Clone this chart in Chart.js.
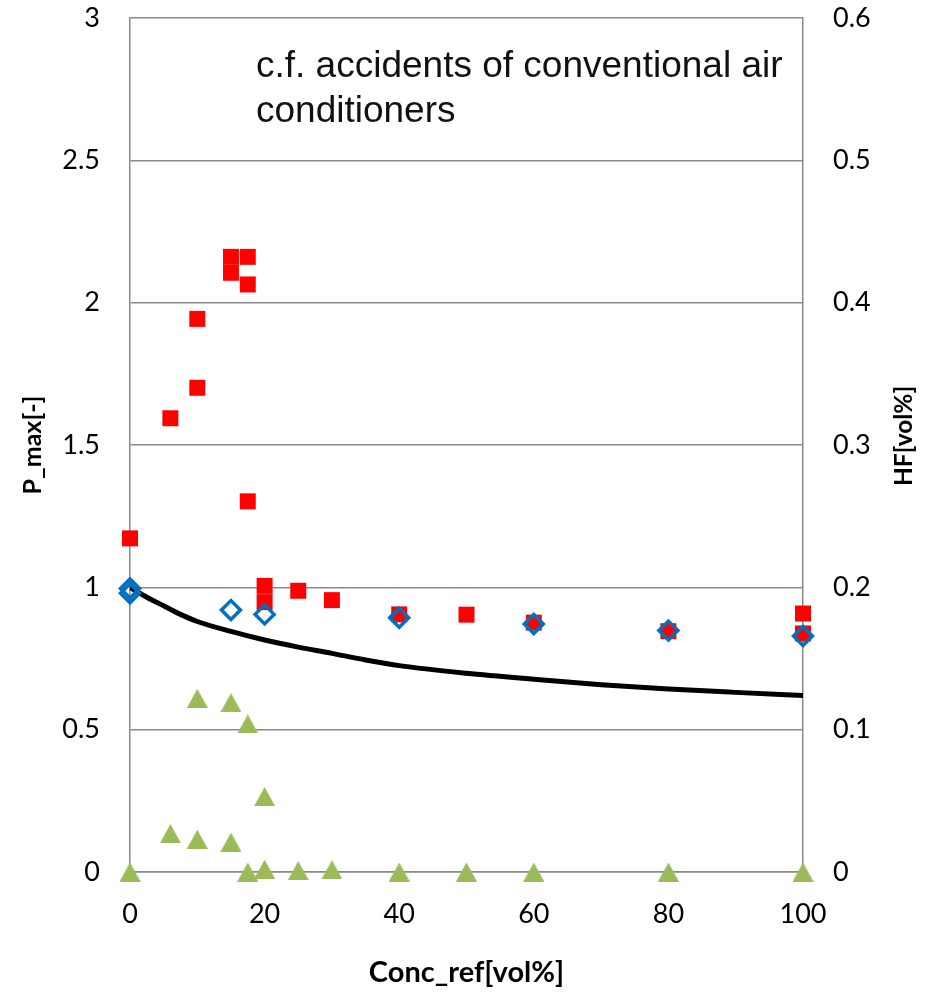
<!DOCTYPE html>
<html>
<head>
<meta charset="utf-8">
<script src="https://cdn.jsdelivr.net/npm/chart.js@4.4.1/dist/chart.umd.min.js"></script>
<style>
  html, body { margin: 0; padding: 0; background: #fff; }
  #chart { display: block; }
</style>
</head>
<body>
<canvas id="chart" width="933" height="992"></canvas>
<script>
// P_max measurements (red squares)
const pmaxX = [0, 6, 10, 10, 15, 15, 17.5, 17.5, 17.5, 20, 20, 25, 30, 40, 50, 60, 80, 100, 100];
const pmaxY = [1.172, 1.594, 1.701, 1.943, 2.161, 2.105, 2.161, 2.064, 1.302, 1.005, 0.948, 0.988, 0.955, 0.905, 0.904, 0.876, 0.846, 0.908, 0.838];

// P_max of the reference cases (blue open diamonds)
const refX = [0, 0, 15, 20, 40, 60, 80, 100];
const refY = [0.996, 0.979, 0.92, 0.905, 0.893, 0.871, 0.848, 0.829];

// HF concentration (green triangles, right axis)
const hfX = [0, 6, 10, 10, 15, 15, 17.5, 17.5, 20, 20, 25, 30, 40, 50, 60, 80, 100];
const hfY = [0, 0.027, 0.122, 0.023, 0.119, 0.021, 0.104, 0, 0.053, 0.002, 0.001, 0.0016, 0, 0, 0, 0, 0];

// black trend curve
const curveX = [0, 2.5, 5, 7.5, 10, 15, 20, 25, 30, 35, 40, 50, 60, 70, 80, 90, 100];
const curveY = [1.0, 0.965, 0.935, 0.905, 0.88, 0.845, 0.815, 0.79, 0.768, 0.745, 0.725, 0.698, 0.677, 0.658, 0.643, 0.631, 0.62];

const xTicks = [0, 20, 40, 60, 80, 100];
const noteLines = ['c.f. accidents of conventional air', 'conditioners'];

const toPoints = (xs, ys) => xs.map((x, i) => ({ x: x, y: ys[i] }));

function triangleMarker(w, h, color) {
    const c = document.createElement('canvas');
    c.width = w;
    c.height = h;
    const g = c.getContext('2d');
    g.fillStyle = color;
    g.beginPath();
    g.moveTo(w / 2, 0);
    g.lineTo(w, h);
    g.lineTo(0, h);
    g.closePath();
    g.fill();
    return c;
}

const gridGray = '#898989';
const fontFamily = 'Lato, "Noto Sans", sans-serif';
const tickFont = { family: fontFamily, size: 27 };

const extraText = {
    id: 'extraText',
    afterDraw(chart) {
        const ctx = chart.ctx;
        ctx.save();
        // right axis title, reading bottom to top like the left one
        ctx.fillStyle = '#000';
        ctx.font = 'bold 24.5px ' + fontFamily;
        ctx.textAlign = 'center';
        ctx.textBaseline = 'middle';
        ctx.translate(904, 436);
        ctx.rotate(-Math.PI / 2);
        ctx.fillText('HF[vol%]', 0, 0);
        ctx.restore();

        ctx.save();
        ctx.fillStyle = '#111';
        ctx.font = '37px "Liberation Sans", Arial, sans-serif';
        ctx.textAlign = 'left';
        ctx.textBaseline = 'alphabetic';
        ctx.fillText(noteLines[0], 256, 77);
        ctx.fillText(noteLines[1], 256, 122);
        ctx.restore();
    }
};

const ctx = document.getElementById('chart').getContext('2d');
new Chart(ctx, {
    type: 'scatter',
    data: {
        datasets: [
            {
                label: 'ref',
                data: toPoints(refX, refY),
                pointStyle: 'rectRot',
                pointRadius: 9.5,
                pointBorderWidth: 3.5,
                borderColor: '#0070C0',
                backgroundColor: 'rgba(0,0,0,0)',
                yAxisID: 'y',
                clip: false,
                order: 1
            },
            {
                label: 'curve',
                data: toPoints(curveX, curveY),
                showLine: true,
                borderColor: '#000',
                borderWidth: 5,
                pointRadius: 0,
                cubicInterpolationMode: 'monotone',
                yAxisID: 'y',
                order: 2
            },
            {
                label: 'P_max',
                data: toPoints(pmaxX, pmaxY),
                pointStyle: 'rect',
                pointRadius: 11.3,
                pointBorderWidth: 0,
                borderColor: '#FF0000',
                backgroundColor: '#FF0000',
                yAxisID: 'y',
                clip: false,
                order: 3
            },
            {
                label: 'HF',
                data: toPoints(hfX, hfY),
                pointStyle: triangleMarker(21, 19, '#9BBB59'),
                pointRadius: 10,
                yAxisID: 'y1',
                clip: false,
                order: 4
            }
        ]
    },
    options: {
        responsive: false,
        animation: false,
        events: [],
        layout: { padding: { top: 18, left: 0, right: 0, bottom: 0 } },
        plugins: {
            legend: { display: false },
            tooltip: { enabled: false }
        },
        scales: {
            x: {
                type: 'linear',
                min: 0,
                max: 100,
                afterFit: s => { s.height = 120; s.paddingLeft = 0; s.paddingRight = 0; },
                afterBuildTicks: s => { s.ticks = xTicks.map(v => ({ value: v })); },
                ticks: { color: '#000', font: tickFont, padding: 26, maxRotation: 0 },
                grid: { display: false, drawTicks: false },
                border: { display: true, color: gridGray, width: 1.5 },
                title: { display: true, text: 'Conc_ref[vol%]', color: '#000', font: { family: fontFamily, size: 29, weight: 'bold' }, padding: { top: 0, bottom: 2 } }
            },
            y: {
                position: 'left',
                min: 0,
                max: 3,
                afterFit: s => { s.width = 130; s.paddingTop = 0; s.paddingBottom = 0; },
                ticks: { stepSize: 0.5, color: '#000', font: tickFont, padding: 30, callback: v => String(Math.round(v * 10) / 10) },
                grid: { color: gridGray, lineWidth: 1.5, drawTicks: false },
                border: { display: true, color: gridGray, width: 1.5 },
                title: { display: true, text: 'P_max[-]', color: '#000', font: { family: fontFamily, size: 25, weight: 'bold' }, padding: { top: 18, bottom: 0 } }
            },
            y1: {
                position: 'right',
                min: 0,
                max: 0.6,
                afterFit: s => { s.width = 130; s.paddingTop = 0; s.paddingBottom = 0; },
                ticks: { stepSize: 0.1, color: '#000', font: tickFont, padding: 30, callback: v => String(Math.round(v * 10) / 10) },
                grid: { display: false, drawTicks: false },
                border: { display: true, color: gridGray, width: 1.5 }
            }
        }
    },
    plugins: [extraText]
});
</script>
</body>
</html>
